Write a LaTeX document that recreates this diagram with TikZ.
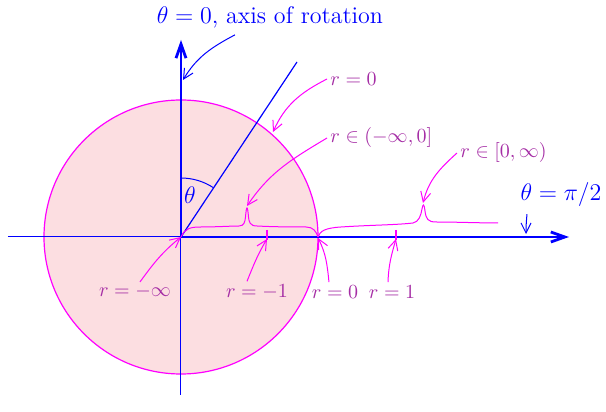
\documentclass[tikz,border=0pt]{standalone}
\usetikzlibrary{arrows.meta}
\definecolor{rosefill}{RGB}{252,222,225}
\definecolor{rlabel}{RGB}{165,45,165}
\definecolor{mag}{RGB}{255,0,255}
\tikzset{
  axisline/.style={blue,line width=1.4pt,-{Straight Barb[length=7pt,width=5pt]}},
  pointer/.style={mag,line width=0.5pt,-{Straight Barb[length=5pt,width=5pt]}},
  bluepointer/.style={blue,line width=0.5pt,-{Straight Barb[length=5pt,width=5pt]}},
  rlab/.style={text=rlabel,inner sep=1.5pt},
}
\begin{document}
\begin{tikzpicture}[x=0.5pt,y=0.5pt]
            \def\R{137}
            \useasboundingbox (-181,-175) rectangle (425,237);
            \coordinate (O) at (0,0);
            \coordinate (Rzero) at (\R,-1);
            \coordinate (circhit) at (92,105);
            \coordinate (axhit) at (2,157);
            \coordinate (tipA) at (66,31);
            \coordinate (tipB) at (242,34);
            \coordinate (halfhit) at (345,3);
            \fill[rosefill] (O) circle (\R);
            \draw[mag,line width=0.6pt] (O) circle (\R);
            \draw[blue,line width=0.5pt] (-173,0) -- (O) -- (0,-158);
            \draw[axisline] (O) -- (388,0);
            \draw[axisline] (O) -- (0,197);
            \draw[blue,line width=0.6pt] (O) -- (116,175);
            \draw[blue,line width=0.5pt] (0,59) arc (90:56.5:59);
            \node[blue,font=\large] (th) at (9,42) {$\theta$};
            \foreach \x/\n in {86/m,215/p}
                {\draw[mag,line width=0.8pt] (\x,7) -- (\x,-3);
                 \coordinate (tick\n) at (\x,-2);}
            % braces along the axis
            \draw[mag,line width=0.5pt] (O)
                .. controls (4,9) and (10,10) .. (20,10)
                .. controls (35,10) and (50,11) .. (58,11)
                .. controls (63,11) and (64,15) .. (64.5,20)
                .. controls (65,26) and (65.5,29) .. (66,29)
                .. controls (66.5,29) and (67,26) .. (67.5,20)
                .. controls (68,15) and (69,11) .. (76,11)
                .. controls (95,10) and (115,10) .. (125,10)
                .. controls (132,10) and (135,6) .. (\R,0);
            \draw[mag,line width=0.5pt] (\R,0)
                .. controls (139,6) and (144,9) .. (160,10)
                .. controls (190,12) and (215,12) .. (232,14)
                .. controls (238,15) and (240,22) .. (241,28)
                .. controls (241.5,31) and (242,32) .. (242.5,32)
                .. controls (243,32) and (243.5,30) .. (244,26)
                .. controls (245,18) and (247,15) .. (255,15)
                .. controls (275,15) and (300,14) .. (317,14);
            % labels
            \node[blue,font=\large] (axis) at (89,220) {$\theta=0$, axis of rotation};
            \node[blue,font=\large] (half) at (380,42) {$\theta=\pi/2$};
            \node[rlab,anchor=west] (rzero) at (146,158) {$r=0$};
            \node[rlab,anchor=west] (rneg) at (146,99) {$r\in(-\infty,0]$};
            \node[rlab,anchor=west] (rpos) at (276,84) {$r\in[0,\infty)$};
            \node[rlab] (rminf) at (-46,-55) {$r=-\infty$};
            \node[rlab] (rmone) at (76,-55) {$r=-1$};
            \node[rlab] (rzerob) at (154,-55) {$r=0$};
            \node[rlab] (rone) at (211,-55) {$r=1$};
            % pointers
            \draw[bluepointer] ([xshift=-17.5pt]axis.south) to[out=208,in=59] (axhit);
            \draw[bluepointer] ([xshift=-17pt]half.south) to[out=265,in=90] (halfhit);
            \draw[pointer] (rzero.west) to[out=207,in=66] (circhit);
            \draw[pointer] (rneg.west) to[out=211,in=56] (tipA);
            \draw[pointer] (rpos.west) to[out=222,in=76] (tipB);
            \draw[pointer] ([xshift=2.5pt]rminf.north) to[out=54,in=219] (O);
            \draw[pointer] ([xshift=-5pt]rmone.north) to[out=68,in=239] (tickm);
            \draw[pointer] ([xshift=-3pt]rzerob.north) to[out=96,in=297] (Rzero);
            \draw[pointer] ([xshift=-2pt]rone.north) to[out=88,in=254] (tickp);
            \end{tikzpicture}
\end{document}
